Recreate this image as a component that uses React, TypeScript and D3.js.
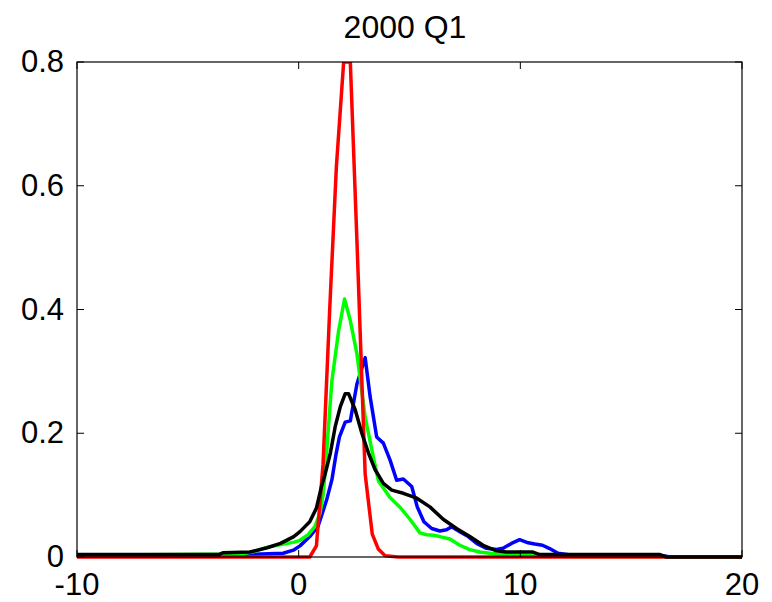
import React from 'react'
import * as d3 from 'd3'

// density estimates
const blueX = [-10, -2.2, -0.7, -0.24, 0.06, 0.5, 0.88, 1.26, 1.5, 1.68, 1.84, 2.1, 2.33, 2.63, 3.0, 3.22, 3.52, 3.82, 4.12, 4.42, 4.72, 5.1, 5.35, 5.65, 6.0, 6.37, 6.67, 6.9, 7.27, 7.65, 8.03, 8.47, 8.92, 9.22, 9.6, 9.97, 10.35, 10.65, 11.0, 11.3, 11.7, 12.5, 16.4, 16.8, 20]
const blueY = [0.003, 0.004, 0.006, 0.011, 0.018, 0.033, 0.05, 0.092, 0.125, 0.165, 0.194, 0.218, 0.22, 0.28, 0.322, 0.26, 0.194, 0.184, 0.157, 0.124, 0.126, 0.114, 0.081, 0.057, 0.046, 0.042, 0.044, 0.049, 0.041, 0.033, 0.022, 0.014, 0.012, 0.014, 0.022, 0.028, 0.023, 0.021, 0.019, 0.014, 0.006, 0.002, 0.002, 0, 0]

const greenX = [-10, -2.5, -2.0, -1.4, -0.8, -0.2, 0.06, 0.43, 0.73, 0.96, 1.1, 1.2, 1.5, 1.8, 2.07, 2.33, 2.63, 3.0, 3.37, 3.6, 4.12, 4.58, 5.02, 5.47, 5.77, 6.07, 6.37, 6.82, 7.27, 7.72, 8.17, 9.07, 10.56, 12.5, 16.4, 16.8, 20]
const greenY = [0.003, 0.005, 0.009, 0.016, 0.02, 0.024, 0.027, 0.036, 0.049, 0.07, 0.1, 0.14, 0.285, 0.365, 0.417, 0.382, 0.328, 0.226, 0.161, 0.123, 0.096, 0.08, 0.061, 0.039, 0.036, 0.035, 0.033, 0.029, 0.019, 0.012, 0.008, 0.004, 0.002, 0.001, 0.001, 0, 0]

const redX = [-10, 0.5, 0.8, 1.1, 1.4, 1.7, 2.03, 2.33, 2.64, 3.0, 3.32, 3.59, 3.9, 4.5, 20]
const redY = [0, 0, 0.018, 0.15, 0.4, 0.63, 0.8, 0.8, 0.5, 0.134, 0.037, 0.013, 0.002, 0, 0]

const blackX = [-10, -3.6, -3.4, -2.2, -1.42, -0.82, -0.22, 0.06, 0.5, 0.8, 1.03, 1.2, 1.43, 1.65, 1.88, 2.1, 2.25, 2.55, 2.85, 3.15, 3.45, 3.82, 4.2, 4.72, 5.33, 5.92, 6.52, 7.12, 7.72, 8.32, 8.92, 9.37, 10.57, 10.87, 16.3, 16.6, 20]
const blackY = [0.004, 0.004, 0.007, 0.008, 0.015, 0.022, 0.033, 0.041, 0.057, 0.079, 0.114, 0.135, 0.168, 0.211, 0.243, 0.264, 0.264, 0.238, 0.2, 0.168, 0.141, 0.119, 0.108, 0.103, 0.095, 0.081, 0.061, 0.046, 0.033, 0.019, 0.01, 0.008, 0.008, 0.004, 0.004, 0, 0]

const xTicks = [-10, 0, 10, 20]
const yTicks = [0, 0.2, 0.4, 0.6, 0.8]
const title = '2000 Q1'

const series = [
  { name: 'blue', xs: blueX, ys: blueY, color: '#0000ff' },
  { name: 'green', xs: greenX, ys: greenY, color: '#00ff00' },
  { name: 'red', xs: redX, ys: redY, color: '#ff0000' },
  { name: 'black', xs: blackX, ys: blackY, color: '#000000' },
]

const W = 772
const H = 602
const margin = { left: 77, right: 30, top: 62, bottom: 45 }
const font = "Arial, 'Liberation Sans', Helvetica, sans-serif"

export default function App() {
  const x = d3.scaleLinear().domain([-10, 20]).range([margin.left, W - margin.right])
  const y = d3.scaleLinear().domain([0, 0.8]).range([H - margin.bottom, margin.top])
  const [x0, x1] = x.range()
  const [y0, y1] = y.range()
  const tickLen = 7

  const line = d3
    .line<[number, number]>()
    .x((d) => x(d[0]))
    .y((d) => y(d[1]))

  return (
    <svg
      width={W}
      height={H}
      style={{ position: 'absolute', left: 0, top: 0, background: '#fff' }}
      fontFamily={font}
    >
      <defs>
        <clipPath id="plot-clip">
          <rect x={x0} y={y1} width={x1 - x0} height={y0 - y1 + 2} />
        </clipPath>
      </defs>
      <rect x={0} y={0} width={W} height={H} fill="#fff" />

      <text x={405} y={38} textAnchor="middle" fontSize={32} fill="#000">
        {title}
      </text>

      <g clipPath="url(#plot-clip)">
        {series.map((s) => (
          <path
            key={s.name}
            d={line(s.xs.map((v, i) => [v, s.ys[i]] as [number, number])) || ''}
            fill="none"
            stroke={s.color}
            strokeWidth={3.5}
            strokeLinejoin="round"
          />
        ))}
      </g>

      {/* frame */}
      <rect x={x0} y={y1} width={x1 - x0} height={y0 - y1} fill="none" stroke="#000" strokeWidth={1.2} />

      {xTicks.map((t) => (
        <g key={'x' + t}>
          <line x1={x(t)} x2={x(t)} y1={y0} y2={y0 - tickLen} stroke="#000" />
          <line x1={x(t)} x2={x(t)} y1={y1} y2={y1 + tickLen} stroke="#000" />
          <text x={x(t)} y={y0 + 38} textAnchor="middle" fontSize={31} fill="#000">
            {t}
          </text>
        </g>
      ))}

      {yTicks.map((t) => (
        <g key={'y' + t}>
          <line x1={x0} x2={x0 + tickLen} y1={y(t)} y2={y(t)} stroke="#000" />
          <line x1={x1} x2={x1 - tickLen} y1={y(t)} y2={y(t)} stroke="#000" />
          <text x={x0 - 13} y={y(t)} dy="0.33em" textAnchor="end" fontSize={31} fill="#000">
            {t}
          </text>
        </g>
      ))}
    </svg>
  )
}
